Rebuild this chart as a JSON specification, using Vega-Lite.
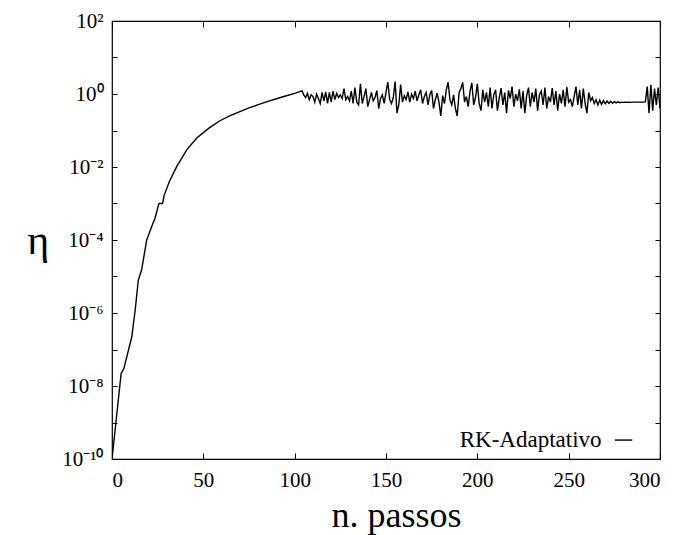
{
  "$schema": "https://vega.github.io/schema/vega-lite/v6.json",
  "width": 548,
  "height": 438,
  "autosize": {"type": "none"},
  "padding": {"left": 112, "top": 21, "right": 21, "bottom": 76},
  "background": "white",
  "config": {
    "view": {"stroke": "black", "strokeWidth": 1.2},
    "font": "Liberation Serif",
    "axis": {
      "labelFont": "Liberation Serif",
      "titleFont": "Liberation Serif",
      "labelColor": "black",
      "titleColor": "black",
      "tickColor": "black",
      "domain": false,
      "grid": false,
      "labelFontSize": 21,
      "titleFontWeight": "normal"
    }
  },
  "datasets": {
    "series": [
      {"n": 0, "eta": 1e-10},
      {"n": 5, "eta": 2.2e-8},
      {"n": 6.5, "eta": 3e-8},
      {"n": 10.8, "eta": 2.2e-7},
      {"n": 12.6, "eta": 1.1e-6},
      {"n": 14.4, "eta": 8e-6},
      {"n": 16.2, "eta": 1.5e-5},
      {"n": 19, "eta": 1e-4},
      {"n": 21.7, "eta": 2.3e-4},
      {"n": 23.5, "eta": 3.9e-4},
      {"n": 25.7, "eta": 1e-3},
      {"n": 27.7, "eta": 1e-3},
      {"n": 28.6, "eta": 1.7e-3},
      {"n": 31.4, "eta": 4e-3},
      {"n": 35.4, "eta": 0.0102},
      {"n": 40.9, "eta": 0.0295},
      {"n": 46.4, "eta": 0.062},
      {"n": 53.6, "eta": 0.122},
      {"n": 59.1, "eta": 0.185},
      {"n": 65, "eta": 0.26},
      {"n": 70, "eta": 0.33},
      {"n": 75, "eta": 0.415},
      {"n": 80, "eta": 0.51},
      {"n": 85, "eta": 0.615},
      {"n": 90, "eta": 0.74},
      {"n": 95, "eta": 0.88},
      {"n": 100, "eta": 1.04},
      {"n": 104, "eta": 1.22},
      {"n": 105, "eta": 0.95},
      {"n": 106, "eta": 0.8},
      {"n": 107, "eta": 1.05},
      {"n": 108, "eta": 0.7},
      {"n": 109, "eta": 0.95},
      {"n": 110, "eta": 0.85},
      {"n": 111, "eta": 0.6},
      {"n": 112, "eta": 1.0},
      {"n": 113, "eta": 0.75},
      {"n": 114, "eta": 0.55},
      {"n": 115, "eta": 1.1},
      {"n": 116, "eta": 0.65},
      {"n": 117, "eta": 1.15},
      {"n": 118, "eta": 0.55},
      {"n": 119, "eta": 1.1},
      {"n": 120, "eta": 0.6},
      {"n": 121, "eta": 1.2},
      {"n": 122, "eta": 0.7},
      {"n": 123, "eta": 1.05},
      {"n": 124, "eta": 0.8},
      {"n": 125, "eta": 0.95},
      {"n": 126, "eta": 0.75},
      {"n": 127, "eta": 1.4},
      {"n": 128, "eta": 0.7},
      {"n": 129, "eta": 0.85},
      {"n": 130, "eta": 0.65},
      {"n": 131, "eta": 1.2},
      {"n": 132, "eta": 0.55},
      {"n": 133, "eta": 1.5},
      {"n": 134, "eta": 0.6},
      {"n": 135, "eta": 0.5},
      {"n": 136, "eta": 1.9},
      {"n": 137, "eta": 0.55},
      {"n": 138, "eta": 0.85},
      {"n": 139, "eta": 1.4},
      {"n": 140, "eta": 0.45},
      {"n": 141, "eta": 0.7},
      {"n": 142, "eta": 1.1},
      {"n": 143, "eta": 0.65},
      {"n": 144, "eta": 0.8},
      {"n": 145, "eta": 1.25},
      {"n": 146, "eta": 0.4},
      {"n": 147, "eta": 0.75},
      {"n": 148, "eta": 0.95},
      {"n": 149, "eta": 0.55},
      {"n": 150, "eta": 1.1},
      {"n": 151, "eta": 2.1},
      {"n": 152, "eta": 0.7},
      {"n": 153, "eta": 0.55},
      {"n": 154, "eta": 0.8},
      {"n": 155, "eta": 2.2},
      {"n": 156, "eta": 0.3},
      {"n": 157, "eta": 0.5},
      {"n": 158, "eta": 1.8},
      {"n": 159, "eta": 0.6},
      {"n": 160, "eta": 0.9},
      {"n": 161, "eta": 0.7},
      {"n": 162, "eta": 1.15},
      {"n": 163, "eta": 0.6},
      {"n": 164, "eta": 1.0},
      {"n": 165, "eta": 0.75},
      {"n": 166, "eta": 1.2},
      {"n": 167, "eta": 0.65},
      {"n": 168, "eta": 0.95},
      {"n": 169, "eta": 1.3},
      {"n": 170, "eta": 0.55},
      {"n": 171, "eta": 0.85},
      {"n": 172, "eta": 1.1},
      {"n": 173, "eta": 0.5},
      {"n": 174, "eta": 0.95},
      {"n": 175, "eta": 1.25},
      {"n": 176, "eta": 0.4},
      {"n": 177, "eta": 0.7},
      {"n": 178, "eta": 1.05},
      {"n": 179, "eta": 0.6},
      {"n": 180, "eta": 0.25},
      {"n": 181, "eta": 0.9},
      {"n": 182, "eta": 0.55},
      {"n": 183, "eta": 1.3},
      {"n": 184, "eta": 2.1},
      {"n": 185, "eta": 0.7},
      {"n": 186, "eta": 0.5},
      {"n": 187, "eta": 0.95},
      {"n": 188, "eta": 0.4},
      {"n": 189, "eta": 0.25},
      {"n": 190, "eta": 1.1},
      {"n": 191, "eta": 1.4},
      {"n": 192, "eta": 2.1},
      {"n": 193, "eta": 0.6},
      {"n": 194, "eta": 0.85},
      {"n": 195, "eta": 0.45},
      {"n": 196, "eta": 1.2},
      {"n": 197, "eta": 2.0},
      {"n": 198, "eta": 0.5},
      {"n": 199, "eta": 0.8},
      {"n": 200, "eta": 1.9},
      {"n": 201, "eta": 0.55},
      {"n": 202, "eta": 0.35},
      {"n": 203, "eta": 1.3},
      {"n": 204, "eta": 0.6},
      {"n": 205, "eta": 1.1},
      {"n": 206, "eta": 0.45},
      {"n": 207, "eta": 1.5},
      {"n": 208, "eta": 0.4},
      {"n": 209, "eta": 0.95},
      {"n": 210, "eta": 1.3},
      {"n": 211, "eta": 0.35},
      {"n": 212, "eta": 0.8},
      {"n": 213, "eta": 1.45},
      {"n": 214, "eta": 0.5},
      {"n": 215, "eta": 1.1},
      {"n": 216, "eta": 0.3},
      {"n": 217, "eta": 1.25},
      {"n": 218, "eta": 0.75},
      {"n": 219, "eta": 1.6},
      {"n": 220, "eta": 0.45},
      {"n": 221, "eta": 1.0},
      {"n": 222, "eta": 0.65},
      {"n": 223, "eta": 1.35},
      {"n": 224, "eta": 0.4},
      {"n": 225, "eta": 1.2},
      {"n": 226, "eta": 0.3},
      {"n": 227, "eta": 0.9},
      {"n": 228, "eta": 1.5},
      {"n": 229, "eta": 0.45},
      {"n": 230, "eta": 1.1},
      {"n": 231, "eta": 0.6},
      {"n": 232, "eta": 1.4},
      {"n": 233, "eta": 0.35},
      {"n": 234, "eta": 0.95},
      {"n": 235, "eta": 1.2},
      {"n": 236, "eta": 0.5},
      {"n": 237, "eta": 1.5},
      {"n": 238, "eta": 0.4},
      {"n": 239, "eta": 0.85},
      {"n": 240, "eta": 0.6},
      {"n": 241, "eta": 1.45},
      {"n": 242, "eta": 0.5},
      {"n": 243, "eta": 1.2},
      {"n": 244, "eta": 0.35},
      {"n": 245, "eta": 1.0},
      {"n": 246, "eta": 0.55},
      {"n": 247, "eta": 1.3},
      {"n": 248, "eta": 0.45},
      {"n": 249, "eta": 1.55},
      {"n": 250, "eta": 0.6},
      {"n": 251, "eta": 0.7},
      {"n": 252, "eta": 0.45},
      {"n": 253, "eta": 0.85},
      {"n": 254, "eta": 1.6},
      {"n": 255, "eta": 0.5},
      {"n": 256, "eta": 1.3},
      {"n": 257, "eta": 0.4},
      {"n": 258, "eta": 1.4},
      {"n": 259, "eta": 0.55},
      {"n": 260, "eta": 0.3},
      {"n": 261, "eta": 1.1},
      {"n": 262, "eta": 0.65},
      {"n": 263, "eta": 0.8},
      {"n": 264, "eta": 0.55},
      {"n": 265, "eta": 0.7},
      {"n": 266, "eta": 0.5},
      {"n": 267, "eta": 0.68},
      {"n": 268, "eta": 0.52},
      {"n": 269, "eta": 0.66},
      {"n": 270, "eta": 0.54},
      {"n": 271, "eta": 0.64},
      {"n": 272, "eta": 0.55},
      {"n": 273, "eta": 0.63},
      {"n": 274, "eta": 0.56},
      {"n": 275, "eta": 0.62},
      {"n": 276, "eta": 0.57},
      {"n": 277, "eta": 0.61},
      {"n": 278, "eta": 0.58},
      {"n": 279, "eta": 0.6},
      {"n": 280, "eta": 0.59},
      {"n": 281, "eta": 0.6},
      {"n": 282, "eta": 0.59},
      {"n": 283, "eta": 0.6},
      {"n": 284, "eta": 0.59},
      {"n": 285, "eta": 0.6},
      {"n": 286, "eta": 0.6},
      {"n": 287, "eta": 0.6},
      {"n": 288, "eta": 0.6},
      {"n": 289, "eta": 0.6},
      {"n": 290, "eta": 0.6},
      {"n": 291, "eta": 0.6},
      {"n": 292, "eta": 0.61},
      {"n": 293, "eta": 1.6},
      {"n": 294, "eta": 0.3},
      {"n": 295, "eta": 1.8},
      {"n": 296, "eta": 0.35},
      {"n": 297, "eta": 1.4},
      {"n": 298, "eta": 0.5},
      {"n": 299, "eta": 1.5},
      {"n": 300, "eta": 0.4}
    ]
  },
  "layer": [
    {
      "data": {"name": "series"},
      "mark": {"type": "line", "color": "black", "strokeWidth": 1.4, "clip": true},
      "encoding": {
        "x": {
          "field": "n", "type": "quantitative",
          "scale": {"domain": [0, 300], "nice": false, "zero": false},
          "axis": {
            "orient": "bottom",
            "values": [0, 50, 100, 150, 200, 250, 300],
            "tickSize": -6,
            "labelPadding": 16,
            "title": "n. passos",
            "titleFontSize": 36,
            "titlePadding": 8,
            "titleX": 284
          }
        },
        "y": {
          "field": "eta", "type": "quantitative",
          "scale": {"type": "log", "domain": [1e-10, 100], "nice": false},
          "axis": {
            "orient": "left",
            "values": [1e-10, 1e-9, 1e-8, 1e-7, 1e-6, 1e-5, 1e-4, 1e-3, 1e-2, 1e-1, 1, 10, 100],
            "tickSize": -5,
            "labelPadding": 14,
            "labelExpr": "round(log(datum.value)/LN10) == 2 ? '10²' : round(log(datum.value)/LN10) == 0 ? '10⁰' : round(log(datum.value)/LN10) == -2 ? '10⁻²' : round(log(datum.value)/LN10) == -4 ? '10⁻⁴' : round(log(datum.value)/LN10) == -6 ? '10⁻⁶' : round(log(datum.value)/LN10) == -8 ? '10⁻⁸' : round(log(datum.value)/LN10) == -10 ? '10⁻¹⁰' : ''",
            "title": "η",
            "titleFontSize": 42,
            "titleAngle": 0,
            "titleBaseline": "middle",
            "titlePadding": 24
          }
        }
      }
    },
    {
      "data": {"values": [{"n": 0}]},
      "mark": {"type": "rule", "opacity": 0},
      "encoding": {
        "x": {
          "field": "n", "type": "quantitative",
          "scale": {"domain": [0, 300], "nice": false, "zero": false},
          "axis": {"orient": "top", "values": [0, 50, 100, 150, 200, 250, 300], "tickSize": -6, "labels": false, "title": null}
        },
        "y": {
          "datum": 1,
          "type": "quantitative",
          "scale": {"type": "log", "domain": [1e-10, 100], "nice": false},
          "axis": {"orient": "right", "values": [1e-10, 1e-9, 1e-8, 1e-7, 1e-6, 1e-5, 1e-4, 1e-3, 1e-2, 1e-1, 1, 10, 100], "tickSize": -5, "labels": false, "title": null}
        }
      }
    },
    {
      "data": {"values": [{"label": "RK-Adaptativo"}]},
      "mark": {"type": "text", "align": "right", "baseline": "middle", "font": "Liberation Serif", "fontSize": 23, "color": "black"},
      "encoding": {
        "x": {"datum": 268, "type": "quantitative", "axis": null},
        "y": {"datum": 3.3e-10, "type": "quantitative", "axis": null},
        "text": {"field": "label"}
      }
    },
    {
      "data": {"values": [{"label": "RK-Adaptativo"}]},
      "mark": {"type": "rule", "color": "black", "strokeWidth": 1.4},
      "encoding": {
        "x": {"datum": 275.3, "type": "quantitative", "axis": null},
        "x2": {"datum": 284.8},
        "y": {"datum": 3.3e-10, "type": "quantitative", "axis": null}
      }
    }
  ],
  "resolve": {"axis": {"x": "independent", "y": "independent"}}
}
